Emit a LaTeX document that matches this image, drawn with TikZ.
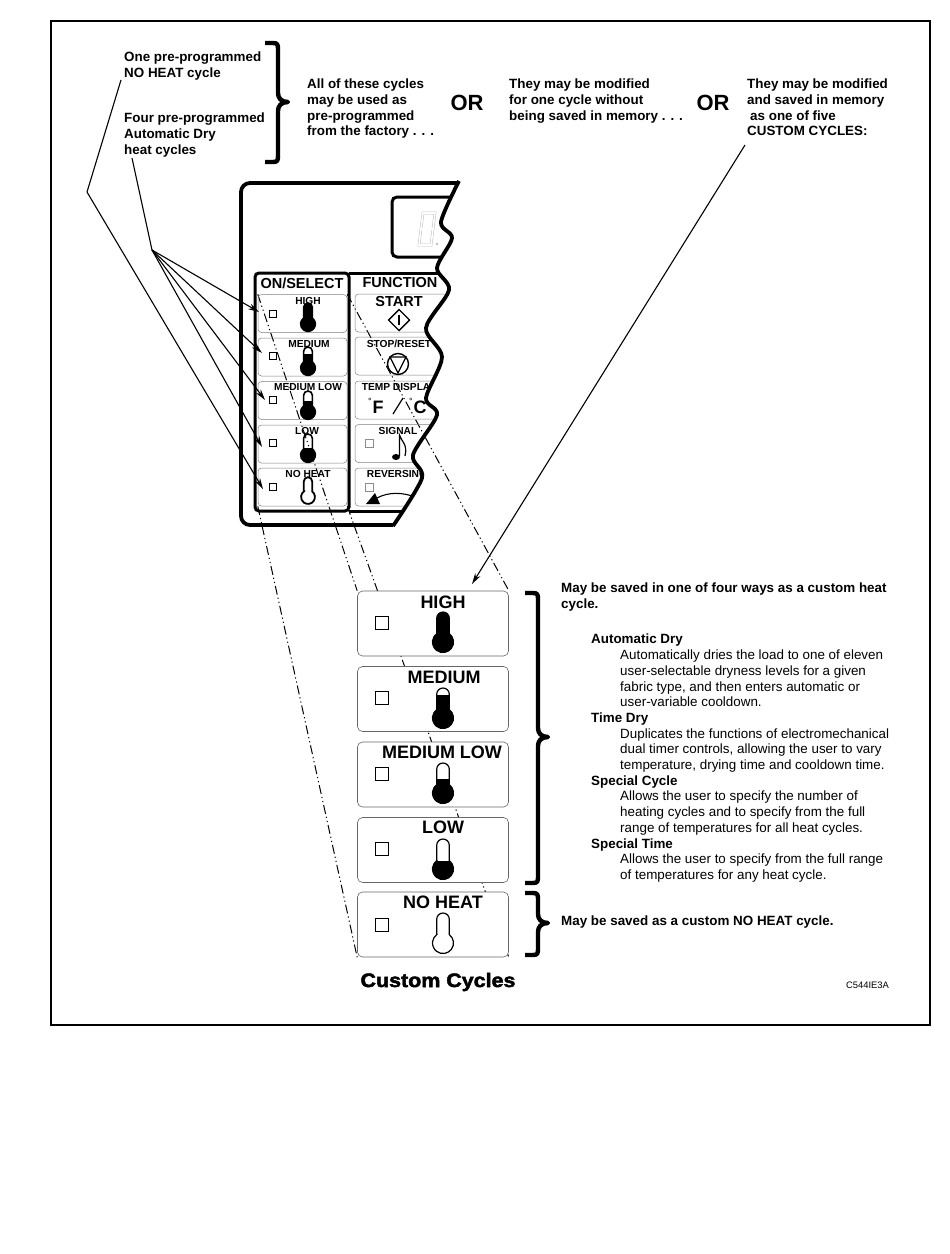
\documentclass[tikz,border=0pt]{standalone}
\usepackage{fontspec}
\setmainfont{Liberation Sans}
\newfontfamily\heavyfont[FakeBold=2.4,FakeStretch=1.1]{Liberation Sans Bold}
\usepackage{tikz}
\usetikzlibrary{arrows.meta, backgrounds}

% thermometer: x, y of the bulb, fill level, scale, line width
\newcommand{\thermoshape}{(-6.3,8.4) -- (-6.3,23.7) arc[start angle=180,end angle=0,radius=6.3] -- (6.3,8.4) arc[start angle=53.13,end angle=-233.13,radius=10.5] -- cycle}
\newcommand{\thermo}[5]{%
  \begin{scope}[shift={(#1,#2)},y=1pt,scale=#4]
    \begin{scope}
      \clip (-15,-15) rectangle (15,#3);
      \fill \thermoshape;
    \end{scope}
    \draw[line width=#5] \thermoshape;
  \end{scope}}
% heavy brace: x of spine, y top, y tip, y bottom
\newcommand{\heavybrace}[4]{%
  \draw[bracket] ({#1-13},#2) -- ({#1-5},#2) .. controls (#1,#2) and (#1,{#2+2}) .. (#1,{#2+7})
    -- (#1,{#3-9}) .. controls (#1,{#3-4}) and ({#1+3},#3) .. ({#1+10},#3)
    .. controls ({#1+3},#3) and (#1,{#3+4}) .. (#1,{#3+9})
    -- (#1,{#4-7}) .. controls (#1,{#4-2}) and (#1,#4) .. ({#1-5},#4) -- ({#1-13},#4);}

\begin{document}
\begin{tikzpicture}[x=1pt, y=-1pt,
    txtbold/.style={font=\fontsize{13.4}{15.6}\selectfont\bfseries, align=left, anchor=north west, inner sep=0pt},
    txtplain/.style={font=\fontsize{13.4}{15.7}\selectfont, align=left, anchor=north west, inner sep=0pt},
    ortext/.style={font=\fontsize{22}{24}\selectfont\bfseries, inner sep=0pt},
    bigbtn/.style={draw=black!60, line width=.6pt, fill=white, rounded corners=5pt, minimum width=151pt, minimum height=65pt, inner sep=0pt},
    smallbtn/.style={draw=black!50, line width=.5pt, rounded corners=3.5pt, minimum width=89pt, minimum height=38pt, inner sep=0pt},
    funcbtn/.style={draw=black!50, line width=.5pt, rounded corners=3.5pt, minimum width=105pt, minimum height=38pt, inner sep=0pt},
    biglabel/.style={font=\fontsize{18}{18}\selectfont\bfseries, inner sep=0pt},
    smalllabel/.style={font=\fontsize{10.2}{10}\selectfont\bfseries, inner sep=0pt},
    panellabel/.style={font=\fontsize{14.5}{14}\selectfont\bfseries, inner sep=0pt},
    biglamp/.style={draw, line width=.6pt, minimum size=13pt, inner sep=0pt},
    lamp/.style={draw, line width=1.5pt, minimum size=7pt, inner sep=0pt},
    dimlamp/.style={draw=black!45, line width=.5pt, minimum size=8pt, inner sep=0pt},
    panel/.style={line width=3.8pt},
    subpanel/.style={line width=3pt},
    digit/.style={draw=black!25, double=white, line width=.5pt, double distance=1.6pt},
    bracket/.style={line width=4.4pt, line join=round},
    leader/.style={line width=1.1pt},
    pointer/.style={line width=1.1pt, -{Stealth[length=11pt,width=6pt]}},
    projline/.style={line width=1pt, dash pattern=on 9pt off 3pt on 1.2pt off 3pt on 1.2pt off 3pt}
]
    \useasboundingbox (0,0) rectangle (950,1254);
    \draw[line width=1.7pt] (51,21) rectangle (930,1025);

    % Upper texts
    \node[txtbold] (onecycle) at (124,52) {One pre-programmed\\NO HEAT cycle};
    \node[txtbold] (fourcycles) at (124,113) {Four pre-programmed\\Automatic Dry\\heat cycles};
    \heavybrace{278}{43}{102}{162}
    \node[txtbold] (factory) at (307,79) {All of these cycles\\may be used as\\pre-programmed\\from the factory . . .};
    \node[ortext] (orone) at (467,103) {OR};
    \node[txtbold] (modified) at (509,79) {They may be modified\\for one cycle without\\being saved in memory . . .};
    \node[ortext] (ortwo) at (713,103) {OR};
    \node[txtbold] (saved) at (747,79) {They may be modified\\and saved in memory\\\hspace*{3pt}as one of five\\CUSTOM CYCLES:};

    % Small buttons
    \node[smallbtn] (smallhigh) at (302.5,313.5) {};
    \node[smallbtn] (smallmedium) at (302.5,357) {};
    \node[smallbtn] (smallmedlow) at (302.5,400.5) {};
    \node[smallbtn] (smalllow) at (302.5,444) {};
    \node[smallbtn] (smallnoheat) at (302.5,487) {};
    \node[smalllabel] (labelhigh) at (308,301) {HIGH};
    \node[smalllabel] (labelmedium) at (309,344) {MEDIUM};
    \node[smalllabel] (labelmedlow) at (308,387) {MEDIUM LOW};
    \node[smalllabel] (labellow) at (307,431) {LOW};
    \node[smalllabel] (labelnoheat) at (308,474) {NO HEAT};
    \node[lamp] (lamphigh) at (273,314) {};
    \node[lamp] (lampmedium) at (273,356) {};
    \node[lamp] (lampmedlow) at (273,400) {};
    \node[lamp] (lamplow) at (273,443) {};
    \node[lamp] (lampnoheat) at (273,487) {};
    \thermo{308}{324}{40}{.7}{1.6pt}
    \thermo{308}{368}{20}{.7}{1.6pt}
    \thermo{308}{412}{15}{.7}{1.6pt}
    \thermo{308}{455}{10}{.7}{1.6pt}
    \thermo{308}{497}{-20}{.66}{1.8pt}

    % Big buttons
    \node[bigbtn] (bighigh) at (433,623.5) {};
    \node[bigbtn] (bigmedium) at (433,699) {};
    \node[bigbtn] (bigmedlow) at (433,774.5) {};
    \node[bigbtn] (biglow) at (433,850) {};
    \node[bigbtn] (bignoheat) at (433,924.5) {};
    \node[biglabel] (titlehigh) at (443,602) {HIGH};
    \node[biglabel] (titlemedium) at (444,677) {MEDIUM};
    \node[biglabel] (titlemedlow) at (442,752) {MEDIUM LOW};
    \node[biglabel] (titlelow) at (443,827) {LOW};
    \node[biglabel] (titlenoheat) at (443,902) {NO HEAT};
    \node[biglamp] (boxhigh) at (381.5,623) {};
    \node[biglamp] (boxmedium) at (381.5,698) {};
    \node[biglamp] (boxmedlow) at (381.5,774) {};
    \node[biglamp] (boxlow) at (381.5,849) {};
    \node[biglamp] (boxnoheat) at (381.5,925) {};
    \thermo{443}{642}{40}{1}{1.2pt}
    \thermo{443}{718}{23}{1}{1.2pt}
    \thermo{443}{793}{14}{1}{1.2pt}
    \thermo{443}{869}{8}{1}{1.2pt}
    \thermo{443}{943}{-20}{1}{1.2pt}

    % Projection lines, behind the big buttons
    \begin{scope}[on background layer]
        \fill[white] (0,0) rectangle (950,1254);
        \draw[projline] (smallhigh.north west) -- (bighigh.north west);
        \draw[projline] (smallhigh.north east) -- (bighigh.north east);
        \draw[projline] (smallnoheat.south west) -- (bignoheat.south west);
        \draw[projline] (smallnoheat.south east) -- (bignoheat.south east);
    \end{scope}

    % Panel
    \draw[panel, rounded corners=9pt] (393,525) -- (241,525) -- (241,183) -- (459,183);
    \draw[subpanel, rounded corners=4pt] (349,273) -- (255,273) -- (255,511) -- (349,511) -- cycle;
    \node[panellabel] (onselect) at (302,283) {ON/SELECT};
    \begin{scope}
        \clip (340,175) -- plot[smooth] coordinates {(459,181) (441,222) (452,238) (437,268) (449,290) (426,328) (442,357) (426,398) (437,415) (413,455) (422,478) (393,526)} -- (340,530) -- cycle;
        \draw[subpanel, rounded corners=5pt] (470,197) -- (392,197) -- (392,257) -- (470,257);
        \draw[subpanel] (349,273) -- (470,273);
        \draw[subpanel] (349,511) -- (470,511);
        \draw[digit] (423,213) -- (435,213) -- (433,229) -- (431,245) -- (419,245) -- (421,229) -- cycle;
        \draw[digit] (421,229) -- (433,229);
        \fill[black!25] (437,244) circle (1.3);
        \node[panellabel] (function) at (400,283) {FUNCTION};
        \node[funcbtn] (funcstart) at (407.5,313) {};
        \node[funcbtn] (funcstop) at (407.5,356) {};
        \node[funcbtn] (functemp) at (407.5,400) {};
        \node[funcbtn] (funcsignal) at (407.5,443.5) {};
        \node[funcbtn] (funcreverse) at (407.5,487) {};
        \node[panellabel] (start) at (399,302) {START};
        \node[smalllabel] (stop) at (399,344) {STOP/RESET};
        \node[smalllabel] (temp) at (399,387) {TEMP DISPLAY};
        \node[smalllabel] (signal) at (398,431) {SIGNAL};
        \node[smalllabel] (reversing) at (397,474) {REVERSING};
        % Symbols of the function buttons
        \draw[line width=1.4pt] (399,309.5) -- (409.5,320) -- (399,330.5) -- (388.5,320) -- cycle;
        \draw[line width=1.2pt] (399,315) -- (399,325);
        \draw[line width=1.4pt] (398,364) circle (10.5);
        \draw[line width=1.2pt] (390,357) -- (406,357) -- (398,373) -- cycle;
        \node[font=\fontsize{18}{18}\selectfont\bfseries, inner sep=0pt] (degf) at (378,407) {F};
        \node[font=\fontsize{18}{18}\selectfont\bfseries, inner sep=0pt] (degc) at (420,407) {C};
        \node[font=\fontsize{9}{9}\selectfont, inner sep=0pt] (ringf) at (370,401) {°};
        \node[font=\fontsize{9}{9}\selectfont, inner sep=0pt] (ringc) at (411,401) {°};
        \draw[line width=1.2pt] (393,414) -- (403,398);
        \node[dimlamp] (lampsignal) at (369.5,443.5) {};
        \node[dimlamp] (lampreverse) at (369,487) {};
        \fill (396,457) ellipse (4 and 3);
        \draw[line width=1.2pt] (399.5,456) -- (399.5,435) .. controls (401,441) and (408,444) .. (405,456);
        \fill (366,504) -- (380,504) -- (375,493) -- cycle;
        \draw[line width=1.1pt] (377,498) .. controls (388,492) and (402,492) .. (415,497);
    \end{scope}
    \draw[panel] plot[smooth] coordinates {(459,181) (441,222) (452,238) (437,268) (449,290) (426,328) (442,357) (426,398) (437,415) (413,455) (422,478) (393,526)};

    % Pointers
    \coordinate (noheatstart) at (121,80);
    \coordinate (noheatbend) at (87,192);
    \coordinate (heatstart) at (132,158);
    \coordinate (heatfan) at (152,250);
    \coordinate (tiphigh) at (259,312);
    \coordinate (tipmedium) at (262,353);
    \coordinate (tipmedlow) at (265,400);
    \coordinate (tiplow) at (262,447);
    \coordinate (tipnoheat) at (263,489);
    \coordinate (customstart) at (745,145);
    \coordinate (customtip) at (472,584);
    \draw[leader] (noheatstart) -- (noheatbend);
    \draw[pointer] (noheatbend) -- (tipnoheat);
    \draw[leader] (heatstart) -- (heatfan);
    \draw[pointer] (heatfan) -- (tiphigh);
    \draw[pointer] (heatfan) -- (tipmedium);
    \draw[pointer] (heatfan) -- (tipmedlow);
    \draw[pointer] (heatfan) -- (tiplow);
    \draw[pointer] (customstart) -- (customtip);

    % Lower texts
    \heavybrace{538}{593}{737}{883}
    \heavybrace{538}{893}{923}{955}
    \node[txtbold] (fourways) at (561,583) {May be saved in one of four ways as a custom heat\\cycle.};
    \node[txtplain] (ways) at (591,634) {\textbf{Automatic Dry}\\
        \hspace*{29pt}Automatically dries the load to one of eleven\\
        \hspace*{29pt}user-selectable dryness levels for a given\\
        \hspace*{29pt}fabric type, and then enters automatic or\\
        \hspace*{29pt}user-variable cooldown.\\
        \textbf{Time Dry}\\
        \hspace*{29pt}Duplicates the functions of electromechanical\\
        \hspace*{29pt}dual timer controls, allowing the user to vary\\
        \hspace*{29pt}temperature, drying time and cooldown time.\\
        \textbf{Special Cycle}\\
        \hspace*{29pt}Allows the user to specify the number of\\
        \hspace*{29pt}heating cycles and to specify from the full\\
        \hspace*{29pt}range of temperatures for all heat cycles.\\
        \textbf{Special Time}\\
        \hspace*{29pt}Allows the user to specify from the full range\\
        \hspace*{29pt}of temperatures for any heat cycle.};
    \node[txtbold] (custombrace) at (561,916) {May be saved as a custom NO HEAT cycle.};
    \node[font=\fontsize{19.5}{20}\selectfont\heavyfont, inner sep=0pt] (customcycles) at (438,982) {Custom Cycles};
    \node[font=\fontsize{9.4}{10}\selectfont, inner sep=0pt] (partcode) at (867.5,985) {C544IE3A};
\end{tikzpicture}
\end{document}
